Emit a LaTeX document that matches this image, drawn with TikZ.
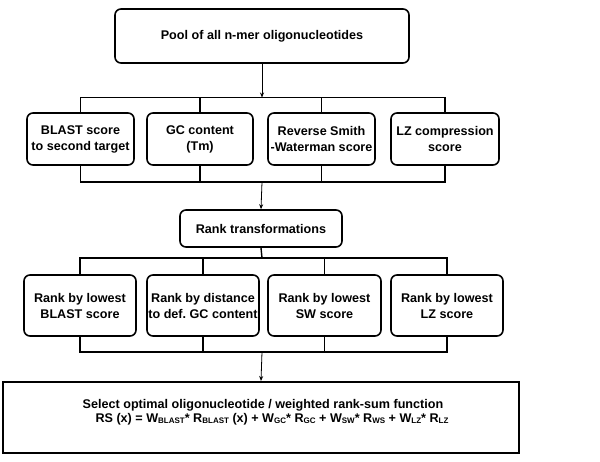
\documentclass[tikz,border=0pt]{standalone}
\usepackage{fontspec}
\setmainfont{Liberation Sans}
\usetikzlibrary{arrows.meta}
\newcommand{\sub}[1]{{\fontsize{8}{8}\selectfont\raisebox{-1pt}{#1}}}

\begin{document}
\begin{tikzpicture}[x=1pt,y=-1pt,
  font=\fontsize{12.6}{16}\selectfont\bfseries,
  stepbox/.style={draw, line width=1.6pt, rounded corners=6pt, align=center, inner sep=0pt},
  bus/.style={line width=1.4pt},
  feed/.style={line width=0.8pt, -{Stealth[length=5pt,width=4pt]}}]
			%%%%% START %%%%%
			\useasboundingbox (0,0) rectangle (600,461);
			
			\node[stepbox, minimum width=294, minimum height=54] (pool) at (262, 36) {Pool of all n-mer oligonucleotides};
			
			\node[stepbox, minimum width=107, minimum height=52] (s1) at (80.5, 139) {BLAST score\\to second target};
			\node[stepbox, minimum width=106, minimum height=52] (s2) at (200, 139) {GC content\\(Tm)};
			\node[stepbox, minimum width=107, minimum height=52] (s3) at (321.5, 139) {Reverse Smith\\-Waterman score};
			\node[stepbox, minimum width=108, minimum height=52] (s4) at (445, 139) {LZ compression\\score};
			
			\node[stepbox, minimum width=162, minimum height=37] (rank) at (261, 228.5) {Rank transformations};
			
			\node[stepbox, minimum width=112, minimum height=61] (r1) at (80, 305.5) {Rank by lowest\\BLAST score};
			\node[stepbox, minimum width=112, minimum height=61] (r2) at (203, 305.5) {Rank by distance\\to def.\ GC content};
			\node[stepbox, minimum width=113, minimum height=61] (r3) at (324.5, 305.5) {Rank by lowest\\SW score};
			\node[stepbox, minimum width=112, minimum height=61] (r4) at (447, 305.5) {Rank by lowest\\LZ score};
			
			\node[draw, line width=2pt, minimum width=516, minimum height=71, inner sep=0pt] (select) at (261, 417.5) {};
			\node[align=center, inner sep=0pt, font=\fontsize{12.6}{14}\selectfont\bfseries] (selecttext) at (263, 412)
			  {Select optimal oligonucleotide / weighted rank-sum function\\
			   \hspace*{18pt}RS (x) = W\sub{BLAST}* R\sub{BLAST} (x) + W\sub{GC}* R\sub{GC} + W\sub{SW}* R\sub{WS} + W\sub{LZ}* R\sub{LZ}};
			
			% bus levels
			\coordinate (busA) at (262, 97.5);
			\coordinate (busB) at (262, 182);
			\coordinate (busC) at (262, 258);
			\coordinate (busD) at (262, 352);
			
			\draw[feed] (pool.south) -- (busA);
			\draw[bus] (s1.north) -- (s1.north |- busA) -- (s4.north |- busA) -- (s4.north);
			\foreach \n in {s2,s3} \draw[bus] (\n.north) -- (\n.north |- busA);
			
			\draw[bus] (s1.south) -- (s1.south |- busB) -- (s4.south |- busB) -- (s4.south);
			\foreach \n in {s2,s3} \draw[bus] (\n.south) -- (\n.south |- busB);
			\draw[feed] (busB) -- (rank.north);
			
			\draw[bus] (rank.south) -- (busC);
			\draw[bus] (r1.north) -- (r1.north |- busC) -- (r4.north |- busC) -- (r4.north);
			\foreach \n in {r2,r3} \draw[bus] (\n.north) -- (\n.north |- busC);
			
			\draw[bus] (r1.south) -- (r1.south |- busD) -- (r4.south |- busD) -- (r4.south);
			\foreach \n in {r2,r3} \draw[bus] (\n.south) -- (\n.south |- busD);
			\draw[feed] (busD) -- (select.north);
			%%%%% END %%%%%
\end{tikzpicture}
\end{document}
